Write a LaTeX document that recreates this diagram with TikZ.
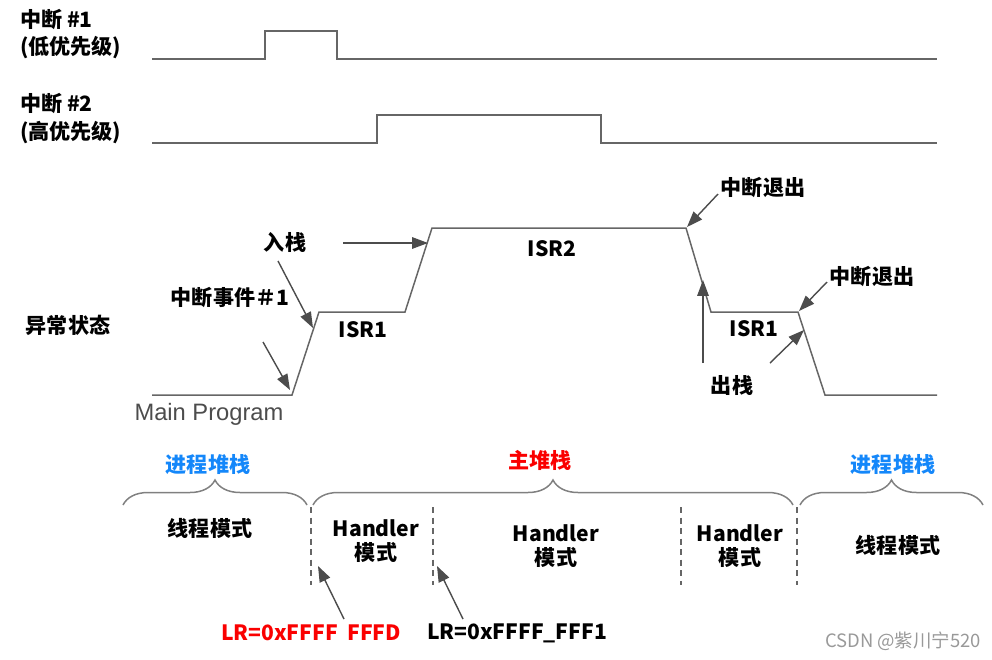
\documentclass[tikz,border=0pt]{standalone}
\usepackage{fontspec}
\setmainfont{Noto Sans CJK SC}
\newfontfamily\latinfont{Liberation Sans}
\usepackage{xcolor}
\usetikzlibrary{arrows.meta,positioning,decorations.pathreplacing}
\definecolor{procblue}{RGB}{20,135,250}
\definecolor{mainred}{RGB}{250,0,0}

\begin{document}
\begin{tikzpicture}[x=0.02cm, y=-0.02cm,
		wave/.style={draw=black!60, line width=0.85pt},
		ptr/.style={-{Triangle[length=9pt,width=6.5pt]}, draw=black!70, line width=0.8pt},
		txt/.style={font=\bfseries\fontsize{12}{14}\selectfont, inner sep=1pt},
		stackbrace/.style={draw=black!50, line width=0.85pt, decorate, decoration={brace, amplitude=0.5cm}},
		split/.style={draw=black!60, line width=0.7pt, dash pattern=on 3.5pt off 2.5pt}
		]
	\useasboundingbox (0,0) rectangle (992,660);

	% --- signaux d'interruption ---
	\node[txt, anchor=west] (int1) at (18,20) {中断 \#1};
	\node[txt, anchor=west] (pri1) at (18,48) {(低优先级)};
	\node[txt, anchor=west] (int2) at (18,104) {中断 \#2};
	\node[txt, anchor=west] (pri2) at (18,133) {(高优先级)};

	\draw[wave] (152,59) -- (265,59) -- (265,31) -- (337,31) -- (337,59) -- (937,59);
	\draw[wave] (152,143) -- (377,143) -- (377,115) -- (601,115) -- (601,143) -- (937,143);

	% --- état d'exception ---
	\draw[wave] (152,395) -- (292,395) -- (319,312) -- (405,312) -- (432,228) -- (686,228)
		-- (711,312) -- (798,312) -- (825,395) -- (937,395);

	\node[txt] (state) at (68,325) {异常状态};
	\node[font=\latinfont\fontsize{13.5}{15}\selectfont, text=black!70] (main) at (209,414) {Main Program};
	\node[txt] (push) at (285,242) {入栈};
	\node[txt] (event) at (230,298) {中断事件＃1};
	\node[txt] (isr1a) at (363,330) {ISR1};
	\node[txt] (isr2) at (552,249) {ISR2};
	\node[txt] (exit1) at (763,188) {中断退出};
	\node[txt] (exit2) at (872,277) {中断退出};
	\node[txt] (isr1b) at (754,329) {ISR1};
	\node[txt] (pop) at (732,385) {出栈};

	\coordinate (pushTail) at (278,261);
	\coordinate (pushTip) at (313,328);
	\coordinate (eventTail) at (263,342);
	\coordinate (eventTip) at (290,390);
	\coordinate (push2Tail) at (343,243);
	\coordinate (push2Tip) at (428,243);
	\coordinate (exit1Tip) at (687,227);
	\coordinate (exit1Tail) at (718,194);
	\coordinate (popTail) at (703,363);
	\coordinate (popTip) at (703,280);
	\coordinate (exit2Tail) at (827,282);
	\coordinate (exit2Tip) at (799,311);
	\coordinate (pop2Tail) at (770,363);
	\coordinate (pop2Tip) at (804,330);

	\draw[ptr] (pushTail) -- (pushTip);
	\draw[ptr] (eventTail) -- (eventTip);
	\draw[ptr] (push2Tail) -- (push2Tip);
	\draw[ptr] (exit1Tail) -- (exit1Tip);
	\draw[ptr] (popTail) -- (popTip);
	\draw[ptr] (exit2Tail) -- (exit2Tip);
	\draw[ptr] (pop2Tail) -- (pop2Tip);

	% --- piles et modes ---
	\draw[stackbrace] (123,505) -- (307,505);
	\draw[stackbrace] (313,505) -- (793,505);
	\draw[stackbrace] (800,505) -- (983,505);

	\node[txt, text=procblue] (psp1) at (208,465) {进程堆栈};
	\node[txt, text=mainred] (msp) at (540,460) {主堆栈};
	\node[txt, text=procblue] (psp2) at (893,465) {进程堆栈};

	\draw[split] (311,507) -- (311,585);
	\draw[split] (433,507) -- (433,585);
	\draw[split] (681,507) -- (681,585);
	\draw[split] (797,507) -- (797,585);

	\node[txt] (thread1) at (210,528) {线程模式};
	\node[txt, align=center] (handler1) at (376,541) {Handler\\模式};
	\node[txt, align=center] (handler2) at (556,546) {Handler\\模式};
	\node[txt, align=center] (handler3) at (740,546) {Handler\\模式};
	\node[txt] (thread2) at (898,545) {线程模式};

	\node[txt, text=mainred] (lr1) at (311,633) {LR=0xFFFF\ \ FFFD};
	\node[txt] (lr2) at (517,633) {LR=0xFFFF\_FFF1};

	\coordinate (lr1Tail) at (344,619);
	\coordinate (lr1Tip) at (318,566);
	\coordinate (lr2Tail) at (463,619);
	\coordinate (lr2Tip) at (437,566);
	\draw[ptr] (lr1Tail) -- (lr1Tip);
	\draw[ptr] (lr2Tail) -- (lr2Tip);

	\node[font=\fontsize{10.5}{12}\selectfont, text=black!40] (mark) at (903,641) {CSDN @紫川宁520};

\end{tikzpicture}
\end{document}
